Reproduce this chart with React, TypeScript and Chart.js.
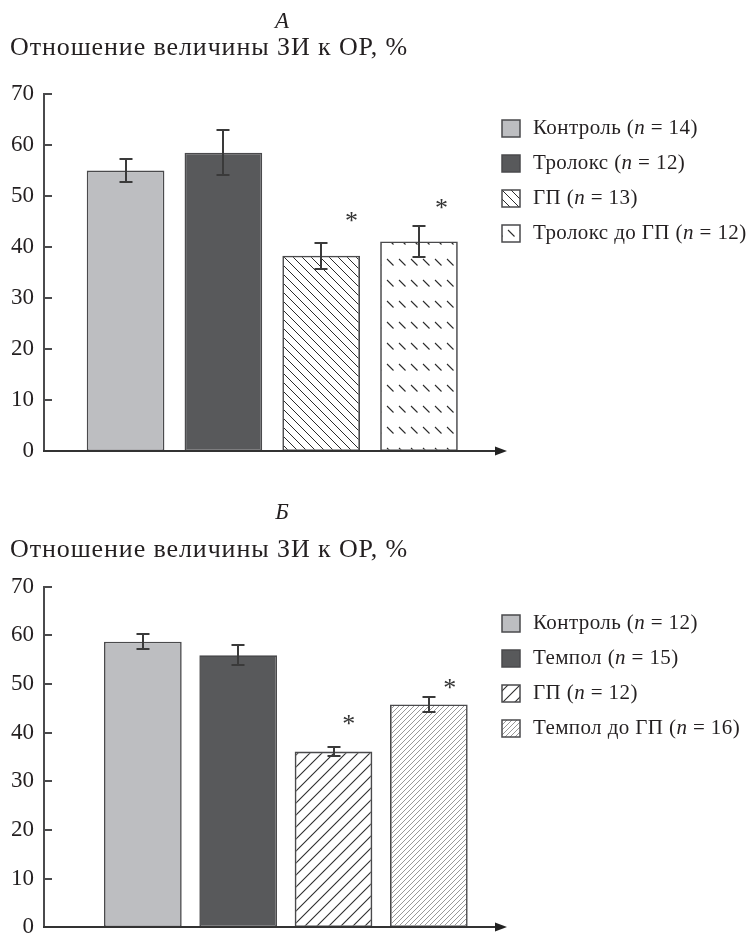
import React, { useEffect, useRef } from 'react';
import { Chart, registerables } from 'chart.js';

Chart.register(...registerables);

// ---------- DATA ----------
const yTicks = [0, 10, 20, 30, 40, 50, 60, 70];
const yTitle = 'Отношение величины ЗИ к ОР, %';

const letterA = 'А';
const groupsA = ['Контроль', 'Тролокс', 'ГП', 'Тролокс до ГП'];
const countsA = [14, 12, 13, 12];
const xPosA = [1, 2, 3, 4];
const meansA = [55.0, 58.5, 38.3, 41.1];
const errorsA = [2.3, 4.4, 2.5, 3.0];
const starsA = [
  { x: 3.31, y: 46.1 },
  { x: 4.23, y: 48.6 },
];

const letterB = 'Б';
const groupsB = ['Контроль', 'Темпол', 'ГП', 'Темпол до ГП'];
const countsB = [12, 15, 12, 16];
const xPosB = [1, 2, 3, 4];
const meansB = [58.7, 55.9, 36.1, 45.8];
const errorsB = [1.6, 2.05, 0.95, 1.5];
const starsB = [
  { x: 3.16, y: 42.8 },
  { x: 4.22, y: 50.2 },
];

// ---------- STYLE HELPERS ----------
const SERIF = '"Liberation Serif", "Times New Roman", serif';
const TEXT = '#231f20';
const EDGE = '#4a4a4c';

function linePattern(w: number, h: number, dir: 'fwd' | 'back', color: string, lw: number) {
  const c = document.createElement('canvas');
  c.width = w;
  c.height = h;
  const g = c.getContext('2d')!;
  g.strokeStyle = color;
  g.lineWidth = lw;
  for (let k = -1; k <= 1; k++) {
    g.beginPath();
    if (dir === 'back') {
      g.moveTo(k * w - w, -h);
      g.lineTo(k * w + 2 * w, 2 * h);
    } else {
      g.moveTo(k * w - w, 2 * h);
      g.lineTo(k * w + 2 * w, -h);
    }
    g.stroke();
  }
  return g.createPattern(c, 'repeat')!;
}

function dashPattern(color: string) {
  const c = document.createElement('canvas');
  c.width = 12;
  c.height = 21;
  const g = c.getContext('2d')!;
  g.strokeStyle = color;
  g.lineWidth = 1.1;
  g.beginPath();
  g.moveTo(3, 7);
  g.lineTo(9.5, 13.5);
  g.stroke();
  return g.createPattern(c, 'repeat')!;
}

type Panel = {
  letter: string;
  groups: string[];
  counts: number[];
  xPos: number[];
  means: number[];
  errors: number[];
  stars: { x: number; y: number }[];
  fills: (string | CanvasPattern)[];
  swatchShift: [number, number][];
  xMin: number;
  xMax: number;
  barPct: number;
  padTop: number;
  padBottom: number;
  letterY: number;
  titleY: number;
  legendOffset: number;
};

function makeChart(canvas: HTMLCanvasElement, p: Panel) {
  const decor = {
    id: 'decor',
    afterDatasetsDraw(chart: any) {
      const ctx: any = chart.ctx;
      const xs = chart.scales.x;
      const ys = chart.scales.y;
      const area = chart.chartArea;
      ctx.save();

      // axes
      const y0 = Math.round(ys.getPixelForValue(0));
      const yTop = Math.round(ys.getPixelForValue(70));
      ctx.strokeStyle = EDGE;
      ctx.lineWidth = 2;
      ctx.beginPath();
      ctx.moveTo(area.left, yTop);
      ctx.lineTo(area.left, y0);
      ctx.stroke();
      yTicks.forEach((v) => {
        const y = Math.round(ys.getPixelForValue(v));
        ctx.beginPath();
        ctx.moveTo(area.left - 1, y);
        ctx.lineTo(area.left + 8, y);
        ctx.stroke();
      });
      ctx.strokeStyle = '#333';
      ctx.beginPath();
      ctx.moveTo(area.left - 1, y0);
      ctx.lineTo(area.right - 8, y0);
      ctx.stroke();
      ctx.fillStyle = '#222';
      ctx.beginPath();
      ctx.moveTo(area.right, y0);
      ctx.lineTo(area.right - 12, y0 - 4.5);
      ctx.lineTo(area.right - 12, y0 + 4.5);
      ctx.closePath();
      ctx.fill();

      // error bars
      ctx.strokeStyle = '#3a3a3a';
      ctx.lineWidth = 2;
      p.means.forEach((m, i) => {
        const x = Math.round(xs.getPixelForValue(p.xPos[i]));
        const yt = Math.round(ys.getPixelForValue(m + p.errors[i]));
        const yb = Math.round(ys.getPixelForValue(m - p.errors[i]));
        ctx.beginPath();
        ctx.moveTo(x, yt);
        ctx.lineTo(x, yb);
        ctx.moveTo(x - 6.5, yt);
        ctx.lineTo(x + 6.5, yt);
        ctx.moveTo(x - 6.5, yb);
        ctx.lineTo(x + 6.5, yb);
        ctx.stroke();
      });

      // stars
      ctx.fillStyle = '#333';
      ctx.font = `26px ${SERIF}`;
      ctx.textAlign = 'center';
      ctx.textBaseline = 'alphabetic';
      p.stars.forEach((s) => {
        ctx.fillText('*', xs.getPixelForValue(s.x), ys.getPixelForValue(s.y) + 13);
      });

      // panel letter and axis title
      ctx.fillStyle = TEXT;
      ctx.textBaseline = 'middle';
      ctx.textAlign = 'center';
      ctx.font = `italic 23px ${SERIF}`;
      ctx.fillText(p.letter, 282, p.letterY);
      ctx.textAlign = 'left';
      ctx.font = `26px ${SERIF}`;
      ctx.letterSpacing = '0.9px';
      ctx.fillText(yTitle, 10, p.titleY);

      // legend
      const fs = 21;
      ctx.letterSpacing = '0.4px';
      p.groups.forEach((g, i) => {
        const cy = yTop + p.legendOffset + i * 35;
        const bx = 502;
        const by = Math.round(cy - 8.5);
        ctx.save();
        ctx.translate(bx + p.swatchShift[i][0], by + p.swatchShift[i][1]);
        ctx.fillStyle = p.fills[i] as any;
        ctx.fillRect(-p.swatchShift[i][0], -p.swatchShift[i][1], 18, 17);
        ctx.restore();
        ctx.strokeStyle = EDGE;
        ctx.lineWidth = 1.5;
        ctx.strokeRect(bx, by, 18, 17);

        let tx = 533;
        ctx.fillStyle = TEXT;
        ctx.textAlign = 'left';
        ctx.textBaseline = 'middle';
        const parts: [string, boolean][] = [
          [g + ' (', false],
          ['n', true],
          [' = ' + p.counts[i] + ')', false],
        ];
        parts.forEach(([t, it]) => {
          ctx.font = `${it ? 'italic ' : ''}${fs}px ${SERIF}`;
          ctx.fillText(t, tx, cy);
          tx += ctx.measureText(t).width;
        });
      });
      ctx.letterSpacing = '0px';

      ctx.restore();
    },
  };

  return new Chart(canvas, {
    type: 'bar',
    data: {
      datasets: p.groups.map((g, i) => ({
        label: g,
        data: [{ x: p.xPos[i], y: p.means[i] }],
        backgroundColor: p.fills[i] as any,
        borderColor: EDGE,
        borderWidth: 1.6,
        borderSkipped: false,
        grouped: false,
        barPercentage: p.barPct,
        categoryPercentage: 1,
      })),
    },
    options: {
      responsive: false,
      animation: false,
      devicePixelRatio: 1,
      layout: { padding: { top: p.padTop, bottom: p.padBottom, left: 0, right: 241 } },
      plugins: { legend: { display: false }, tooltip: { enabled: false }, title: { display: false } },
      scales: {
        x: {
          type: 'linear',
          min: p.xMin,
          max: p.xMax,
          display: false,
          afterBuildTicks: (s: any) => {
            s.ticks = [];
          },
        },
        y: {
          min: 0,
          max: 70,
          afterFit: (s: any) => {
            s.width = 44;
          },
          ticks: {
            stepSize: 10,
            padding: 10,
            color: TEXT,
            font: { family: 'Liberation Serif', size: 23 },
          },
          grid: { display: false, drawTicks: false },
          border: { display: false },
        },
      },
    },
    plugins: [decor],
  } as any);
}

export default function App() {
  const refA = useRef<HTMLCanvasElement>(null);
  const refB = useRef<HTMLCanvasElement>(null);

  useEffect(() => {
    const light = '#bdbec1';
    const dark = '#58595b';
    const a = makeChart(refA.current!, {
      letter: letterA,
      groups: groupsA,
      counts: countsA,
      xPos: xPosA,
      means: meansA,
      errors: errorsA,
      stars: starsA,
      fills: [light, dark, linePattern(9, 9, 'back', '#2b2b2b', 1), dashPattern('#2b2b2b')],
      swatchShift: [[0, 0], [0, 0], [0, 0], [3, -2]],
      xMin: 0.166,
      xMax: 4.9,
      barPct: 0.794,
      padTop: 94,
      padBottom: 20,
      letterY: 22,
      titleY: 48,
      legendOffset: 34.3,
    });
    const b = makeChart(refB.current!, {
      letter: letterB,
      groups: groupsB,
      counts: countsB,
      xPos: xPosB,
      means: meansB,
      errors: errorsB,
      stars: starsB,
      fills: [light, dark, linePattern(12, 12, 'fwd', '#2b2b2b', 1.1), linePattern(5, 5, 'fwd', '#8c8c8c', 0.9)],
      swatchShift: [[0, 0], [0, 0], [6, 0], [0, 0]],
      xMin: -0.037,
      xMax: 4.82,
      barPct: 0.815,
      padTop: 111.7,
      padBottom: 4.3,
      letterY: 38,
      titleY: 75,
      legendOffset: 36.6,
    });
    return () => {
      a.destroy();
      b.destroy();
    };
  }, []);

  return (
    <div style={{ position: 'absolute', left: 0, top: 0, width: 748, height: 951, background: '#fff' }}>
      <canvas ref={refA} width={748} height={475} style={{ display: 'block', width: 748, height: 475 }} />
      <canvas ref={refB} width={748} height={476} style={{ display: 'block', width: 748, height: 476 }} />
    </div>
  );
}
